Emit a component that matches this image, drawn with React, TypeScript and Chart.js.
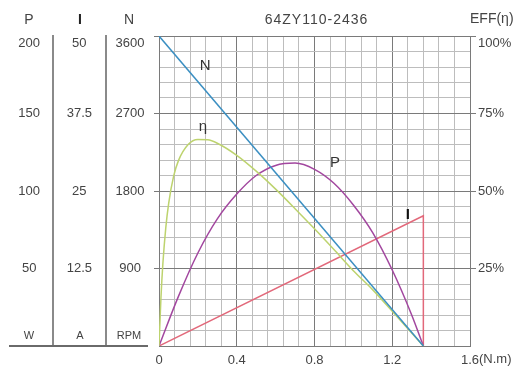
import React, { useEffect, useRef } from 'react';
import { Chart, registerables } from 'chart.js';

Chart.register(...registerables);

// ---- data ----
const torqueN = [0, 1.36];
const speedN = [3600, 0];

const torqueI = [0, 1.36, 1.36];
const currentI = [0, 21, 0];

const torqueP = [0, 0.1, 0.2, 0.3, 0.4, 0.5, 0.6, 0.7, 0.8, 0.9, 1.0, 1.1, 1.2, 1.3, 1.36];
const powerP = [0, 32, 60, 82, 98, 110, 116.5, 118, 114, 105, 91, 73, 49, 20, 0];

const torqueEff = [0, 0.01, 0.02, 0.035, 0.05, 0.075, 0.1, 0.15, 0.2, 0.25, 0.3, 0.4, 0.5, 0.6, 0.7, 0.8, 0.9, 1.0, 1.1, 1.2, 1.3, 1.36];
const effPct = [0, 15.5, 26.6, 38.2, 46.1, 54.7, 59.8, 65.0, 66.6, 66.5, 65.4, 61.5, 56.4, 50.6, 44.3, 37.8, 31.1, 24.3, 18.1, 11.2, 4.2, 0];

const xTickLabels = ['0', '0.4', '0.8', '1.2', '1.6'];
const title = '64ZY110-2436';
const columnHeads = ['P', 'I', 'N'];
const columnUnits = ['W', 'A', 'RPM'];

const FONT = '"Liberation Sans", Arial, sans-serif';
const MINOR = '#bdbdbd';
const MAJOR = '#7a7a7a';
const TEXT = '#444';

const pts = (xs: number[], ys: number[]) => xs.map((x, i) => ({ x, y: ys[i] }));

const textPlugin = {
  id: 'texts',
  afterDraw(chart: any) {
    const { ctx, scales, chartArea } = chart;
    const sx = scales.x;
    const se = scales.y;
    ctx.save();
    ctx.textBaseline = 'middle';
    ctx.textAlign = 'center';
    ctx.fillStyle = TEXT;
    // column headers
    const colX = [29, 80, 129];
    columnHeads.forEach((h, i) => {
      ctx.font = (i === 1 ? 'bold ' : '') + '14px ' + FONT;
      ctx.fillStyle = i === 1 ? '#222' : TEXT;
      ctx.fillText(h, colX[i], 20);
    });
    // units
    ctx.fillStyle = TEXT;
    ctx.font = '11px ' + FONT;
    columnUnits.forEach((u, i) => ctx.fillText(u, colX[i], 336));
    // bottom line under the columns
    ctx.strokeStyle = '#6a6a6a';
    ctx.lineWidth = 2;
    ctx.beginPath();
    ctx.moveTo(9, chartArea.bottom);
    ctx.lineTo(148, chartArea.bottom);
    ctx.stroke();
    // title
    ctx.font = '14px ' + FONT;
    (ctx as any).letterSpacing = '1px';
    ctx.fillText(title, (chartArea.left + chartArea.right) / 2 + 2, 20);
    (ctx as any).letterSpacing = '0px';
    // EFF
    ctx.textAlign = 'left';
    ctx.fillText('EFF(η)', chartArea.right, 19);
    // (N.m) after 1.6
    ctx.font = '13px ' + FONT;
    const w16 = ctx.measureText('1.6').width;
    ctx.fillText('(N.m)', sx.getPixelForValue(1.6) + w16 / 2, 359);
    // curve labels
    ctx.textAlign = 'center';
    ctx.font = '15px ' + FONT;
    ctx.fillStyle = '#333';
    ctx.fillText('N', sx.getPixelForValue(0.237), se.getPixelForValue(90.3));
    ctx.fillText('η', sx.getPixelForValue(0.226), se.getPixelForValue(70.6));
    ctx.fillText('P', sx.getPixelForValue(0.905), se.getPixelForValue(59));
    ctx.font = 'bold 15px ' + FONT;
    ctx.fillStyle = '#111';
    ctx.fillText('I', sx.getPixelForValue(1.28), se.getPixelForValue(42.3));
    ctx.restore();
  },
};

const leftAxis = (max: number, step: number, weight: number, pad: number, fmt: (v: number) => string, ticksOn: boolean) => ({
  type: 'linear',
  position: 'left',
  weight,
  min: 0,
  max,
  afterFit: (s: any) => { s.width = 53; },
  grid: {
    drawOnChartArea: false,
    drawTicks: ticksOn,
    tickLength: 5,
    color: MAJOR,
    tickColor: (c: any) => (c.index === 0 ? 'transparent' : MAJOR),
  },
  border: ticksOn ? { display: true, color: MAJOR, width: 1 } : { display: true, color: '#8a8a8a', width: 2 },
  ticks: {
    stepSize: step,
    autoSkip: false,
    crossAlign: 'center',
    padding: pad,
    color: TEXT,
    font: { family: FONT, size: 13 },
    callback: (v: number) => (v === 0 ? '' : v === max ? ['', fmt(v)] : fmt(v)),
  },
});

export default function App() {
  const ref = useRef<HTMLCanvasElement>(null);
  useEffect(() => {
    if (!ref.current) return;
    const chart = new Chart(ref.current, {
      type: 'line',
      data: {
        datasets: [
          { label: 'N', data: pts(torqueN, speedN), yAxisID: 'yN', borderColor: '#3b8fc2', borderWidth: 1.5, pointRadius: 0, tension: 0 },
          { label: 'η', data: pts(torqueEff, effPct), yAxisID: 'y', borderColor: '#bdd36e', borderWidth: 1.5, pointRadius: 0, cubicInterpolationMode: 'monotone' },
          { label: 'P', data: pts(torqueP, powerP), yAxisID: 'yP', borderColor: '#a2479f', borderWidth: 1.5, pointRadius: 0, cubicInterpolationMode: 'monotone' },
          { label: 'I', data: pts(torqueI, currentI), yAxisID: 'yI', borderColor: '#e2687a', borderWidth: 1.5, pointRadius: 0, tension: 0 },
        ],
      } as any,
      options: {
        responsive: false,
        animation: false,
        layout: { padding: { top: 36, left: 0, right: 0, bottom: 0 } },
        plugins: { legend: { display: false }, tooltip: { enabled: false }, title: { display: false } },
        scales: {
          x: {
            type: 'linear',
            min: 0,
            max: 1.6,
            afterFit: (s: any) => { s.height = 25; },
            grid: {
              drawTicks: false,
              color: (c: any) => (c.index % 5 === 0 ? MAJOR : MINOR),
            },
            border: { display: true, color: MAJOR },
            ticks: {
              stepSize: 0.08,
              autoSkip: false,
              maxRotation: 0,
              padding: 7,
              color: TEXT,
              font: { family: FONT, size: 13 },
              callback: (_v: number, i: number) => (i % 5 === 0 ? xTickLabels[i / 5] : ''),
            },
          },
          y: {
            type: 'linear',
            position: 'right',
            min: 0,
            max: 100,
            afterFit: (s: any) => { s.width = 53; },
            grid: {
              tickLength: 6,
              color: (c: any) => (c.index % 5 === 0 ? MAJOR : MINOR),
              tickColor: (c: any) => (c.index % 5 === 0 && c.index > 0 ? MAJOR : 'transparent'),
            },
            border: { display: true, color: MAJOR },
            ticks: {
              stepSize: 5,
              autoSkip: false,
              padding: 2,
              color: TEXT,
              font: { family: FONT, size: 13 },
              callback: (v: number) => (v === 0 || v % 25 !== 0 ? '' : v === 100 ? ['', '100%'] : v + '%'),
            },
          },
          yP: leftAxis(200, 50, 3, 13, (v) => String(v), false),
          yI: leftAxis(50, 12.5, 2, 14, (v) => String(v), false),
          yN: leftAxis(3600, 900, 1, 9.5, (v) => String(v), true),
        } as any,
      },
      plugins: [textPlugin],
    });
    return () => chart.destroy();
  }, []);
  return (
    <div style={{ position: 'fixed', left: 0, top: 0, width: 523, height: 371, background: '#fff' }}>
      <canvas ref={ref} width={523} height={371} style={{ display: 'block' }} />
    </div>
  );
}
